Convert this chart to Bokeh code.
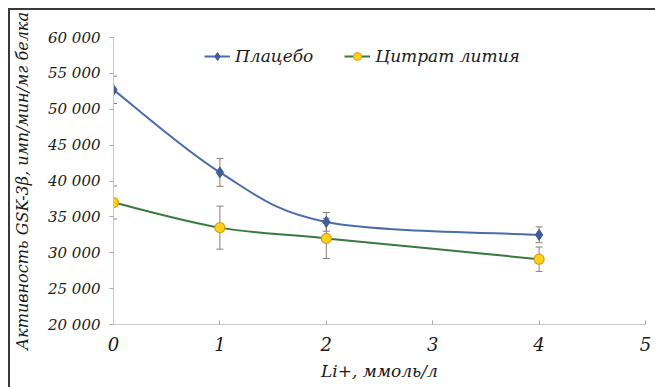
from bokeh.plotting import figure
from bokeh.models import ColumnDataSource, Whisker, TeeHead, Legend, LegendItem
from bokeh.embed import file_html
from bokeh.resources import INLINE

# --- data ---
x_vals = [0, 1, 2, 4]
placebo = [52700, 41200, 34300, 32500]
placebo_err = [1900, 1950, 1300, 1100]
citrate = [37000, 33500, 32000, 29100]
citrate_err = [2300, 3000, 2800, 1700]
y_ticks = [20000, 25000, 30000, 35000, 40000, 45000, 50000, 55000, 60000]
x_ticks = [0, 1, 2, 3, 4, 5]
series_names = ["Плацебо", "Цитрат лития"]

FONT = "DejaVu Serif"

p = figure(frame_width=532, frame_height=287, output_backend="svg", toolbar_location=None,
           x_range=(0, 5), y_range=(20000, 60000),
           min_border_left=102, min_border_right=11, min_border_top=27, min_border_bottom=63)
p.styles = {"margin-left": "8px", "margin-top": "8px",
            "border-top": "2px solid #3a3a3a", "border-left": "2px solid #3a3a3a"}
p.outline_line_color = None
p.xgrid.visible = False
p.ygrid.visible = False


def bezier_segments(xs, ys):
    n = len(xs)
    segs = dict(x0=[], y0=[], x1=[], y1=[], cx0=[], cy0=[], cx1=[], cy1=[])
    for i in range(n - 1):
        im1 = max(i - 1, 0)
        ip2 = min(i + 2, n - 1)
        segs["x0"].append(xs[i]); segs["y0"].append(ys[i])
        segs["x1"].append(xs[i + 1]); segs["y1"].append(ys[i + 1])
        segs["cx0"].append(xs[i] + (xs[i + 1] - xs[im1]) / 6)
        segs["cy0"].append(ys[i] + (ys[i + 1] - ys[im1]) / 6)
        segs["cx1"].append(xs[i + 1] - (xs[ip2] - xs[i]) / 6)
        segs["cy1"].append(ys[i + 1] - (ys[ip2] - ys[i]) / 6)
    return ColumnDataSource(segs)


BLUE_LINE = "#4a6cab"
BLUE_MARK = "#3f5d97"
GREEN_LINE = "#3b7a3f"
YELLOW = "#ffd21a"
ORANGE = "#e09a12"
ERR = "#8a7e78"

for ys, errs in ((placebo, placebo_err), (citrate, citrate_err)):
    src = ColumnDataSource(dict(x=x_vals,
                                lo=[a - b for a, b in zip(ys, errs)],
                                hi=[a + b for a, b in zip(ys, errs)]))
    w = Whisker(base="x", lower="lo", upper="hi", source=src, line_color=ERR, line_width=1,
                upper_head=TeeHead(size=7, line_color=ERR, line_width=1),
                lower_head=TeeHead(size=7, line_color=ERR, line_width=1))
    p.add_layout(w)

b1 = p.bezier(x0="x0", y0="y0", x1="x1", y1="y1", cx0="cx0", cy0="cy0", cx1="cx1", cy1="cy1",
              source=bezier_segments(x_vals, placebo), line_color=BLUE_LINE, line_width=2)
b2 = p.bezier(x0="x0", y0="y0", x1="x1", y1="y1", cx0="cx0", cy0="cy0", cx1="cx1", cy1="cy1",
              source=bezier_segments(x_vals, citrate), line_color=GREEN_LINE, line_width=2)

m1 = p.scatter(x_vals, placebo, marker="diamond", size=11, fill_color=BLUE_MARK, line_color=BLUE_MARK)
m2 = p.scatter(x_vals, citrate, marker="circle", size=10, fill_color=YELLOW, line_color=ORANGE, line_width=1.2)

l1 = p.line([None, None], [None, None], line_color=BLUE_LINE, line_width=2)
l2 = p.line([None, None], [None, None], line_color=GREEN_LINE, line_width=2)
d1 = p.scatter([None], [None], marker="diamond", size=8, fill_color=BLUE_MARK, line_color=BLUE_MARK)
d2 = p.scatter([None], [None], marker="circle", size=8, fill_color=YELLOW, line_color=ORANGE)

legend = Legend(items=[LegendItem(label=series_names[0], renderers=[l1, d1]),
                       LegendItem(label=series_names[1], renderers=[l2, d2])],
                orientation="horizontal", location=(91, 258),
                label_text_font=FONT, label_text_font_style="italic", label_text_font_size="17px",
                label_text_color="#1a1a1a",
                glyph_width=26, glyph_height=20, label_height=20, label_standoff=5,
                spacing=31, padding=0, margin=0,
                background_fill_alpha=0, border_line_color=None)
p.add_layout(legend)

p.xaxis.ticker = x_ticks
p.yaxis.ticker = y_ticks
p.yaxis.major_label_overrides = {v: f"{v:,}".replace(",", " ") for v in y_ticks}
for ax in (p.xaxis[0], p.yaxis[0]):
    ax.axis_line_color = "#c8c8c8"
    ax.major_tick_line_color = "#b0a8a8"
    ax.minor_tick_line_color = None
    ax.major_label_text_font = FONT
    ax.major_label_text_font_style = "italic"
    ax.major_label_text_color = "#1a1a1a"
    ax.axis_label_text_font = FONT
    ax.axis_label_text_font_style = "italic"
    ax.axis_label_text_color = "#1a1a1a"

p.yaxis.major_tick_out = 4
p.yaxis.major_tick_in = 0
p.xaxis.major_tick_out = 0
p.xaxis.major_tick_in = 4
p.yaxis.major_label_text_font_size = "15px"
p.xaxis.major_label_text_font_size = "18px"
p.yaxis.major_label_standoff = 9
p.xaxis.major_label_standoff = 12
p.xaxis.axis_label = "Li+, ммоль/л"
p.yaxis.axis_label = "Активность GSK-3β, имп/мин/мг белка"
p.xaxis.axis_label_text_font_size = "17px"
p.yaxis.axis_label_text_font_size = "16px"
p.xaxis.axis_label_standoff = 7
p.yaxis.axis_label_standoff = 13

open("out.html", "w").write(file_html(p, INLINE))
